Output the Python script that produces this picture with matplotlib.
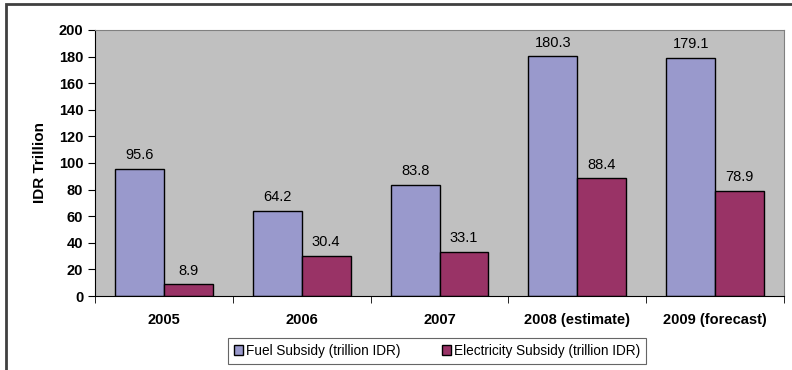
import matplotlib.pyplot as plt
import matplotlib.patches as mpatches
import numpy as np

plt.rcParams['font.family'] = ['Liberation Sans', 'DejaVu Sans']

years = ["2005", "2006", "2007", "2008 (estimate)", "2009 (forecast)"]
fuel = [95.6, 64.2, 83.8, 180.3, 179.1]
electricity = [8.9, 30.4, 33.1, 88.4, 78.9]

fig = plt.figure(figsize=(7.92, 3.70), dpi=100)
ax = fig.add_axes([0.12, 0.2, 0.87, 0.719])

# outer chart frame
fig.patches.append(mpatches.Rectangle((6 / 792, -0.01), 1.0, 1 - 4 / 370 + 0.01,
                                      transform=fig.transFigure, fill=False,
                                      edgecolor='#404040', linewidth=2))

x = np.arange(len(years))
w = 0.355
b1 = ax.bar(x - w / 2, fuel, w, color='#9999CC', edgecolor='black', linewidth=1,
            label='Fuel Subsidy (trillion IDR)')
b2 = ax.bar(x + w / 2, electricity, w, color='#993366', edgecolor='black', linewidth=1,
            label='Electricity Subsidy (trillion IDR)')

for bars, vals in ((b1, fuel), (b2, electricity)):
    for bar, v in zip(bars, vals):
        ax.text(bar.get_x() + bar.get_width() / 2, v + 5, f"{v:.1f}",
                ha='center', va='bottom', fontsize=10.5)

ax.set_facecolor('#C0C0C0')
ax.set_xlim(-0.5, len(years) - 0.5)
ax.set_ylim(0, 200)
ax.set_yticks(range(0, 201, 20))
ax.set_xticks(x)
ax.set_xticklabels(years, fontsize=10.5, fontweight='bold')
ax.set_xticks(np.arange(-0.5, len(years)), minor=True)
ax.tick_params(axis='x', which='major', length=0, pad=12)
ax.tick_params(axis='x', which='minor', length=5, direction='out')
ax.tick_params(axis='y', labelsize=10.5, length=5, direction='out')
for lbl in ax.get_yticklabels():
    lbl.set_fontweight('bold')
ax.set_ylabel('IDR Trillion', fontsize=11, fontweight='bold', labelpad=8)

for side in ('top', 'right'):
    ax.spines[side].set_color('#808080')
for side in ('left', 'bottom'):
    ax.spines[side].set_color('black')

leg = fig.legend(handles=[b1, b2], loc='center', bbox_to_anchor=(437 / 792, 1 - 351 / 370),
                 ncol=2, fontsize=9.8, frameon=True, fancybox=False, edgecolor='#404040',
                 handlelength=0.7, handleheight=0.7, handletextpad=0.2, columnspacing=3,
                 borderpad=0.45)
leg.get_frame().set_linewidth(0.8)

fig.savefig('out.png', dpi=100)
